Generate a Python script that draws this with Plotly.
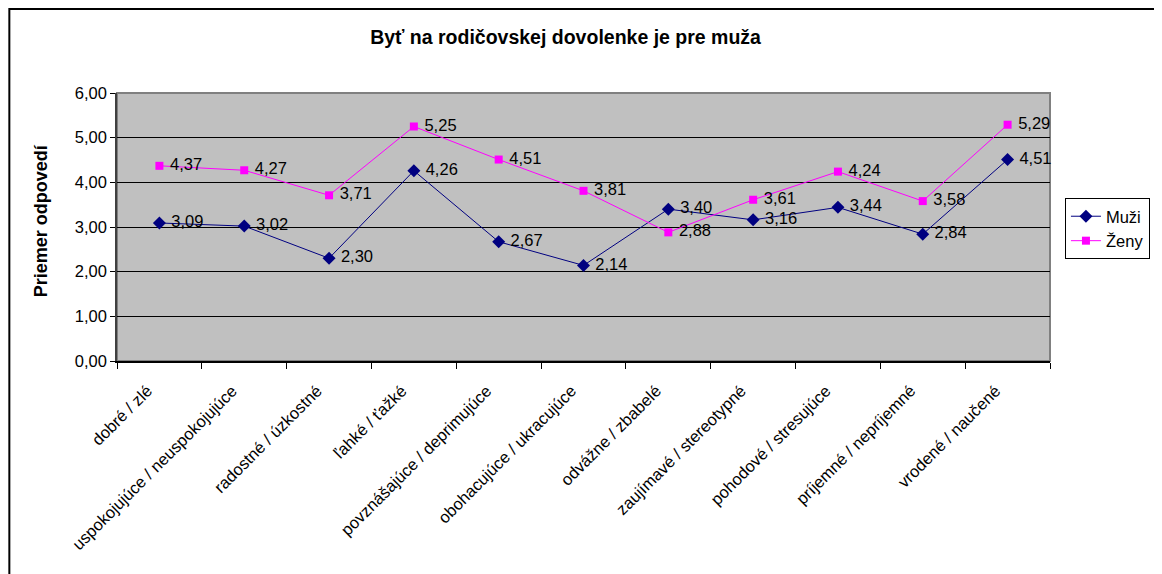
import plotly.graph_objects as go

categories = ["dobré / zlé", "uspokojujúce / neuspokojujúce", "radostné / úzkostné",
              "ľahké / ťažké", "povznášajúce / deprimujúce", "obohacujúce / ukracujúce",
              "odvážne / zbabelé", "zaujímavé / stereotypné", "pohodové / stresujúce",
              "príjemné / nepríjemné", "vrodené / naučené"]
muzi = [3.09, 3.02, 2.30, 4.26, 2.67, 2.14, 3.40, 3.16, 3.44, 2.84, 4.51]
zeny = [4.37, 4.27, 3.71, 5.25, 4.51, 3.81, 2.88, 3.61, 4.24, 3.58, 5.29]
y_ticks = [0, 1, 2, 3, 4, 5, 6]

FONT = "Liberation Sans, Arial, sans-serif"
OFF = 8  # default page body margin
W, H = 1162 - OFF, 574 - OFF
# plot area in page pixels
L, R, T, B = 117, 1053, 93, 361

def px_x(p):
    return (p - L) / (R - L)

def px_y(p):
    return (B - p) / (B - T)

fig = go.Figure()
fig.add_trace(go.Scatter(
    x=categories, y=muzi, name="Muži", mode="lines+markers+text",
    line=dict(color="#000080", width=1),
    marker=dict(symbol="diamond", size=10, color="#000080"),
    texttemplate=" %{y:.2f}", textposition="middle right", cliponaxis=False,
    textfont=dict(family=FONT, size=16.5, color="black"),
))
fig.add_trace(go.Scatter(
    x=categories, y=zeny, name="Ženy", mode="lines+markers+text",
    line=dict(color="#FF00FF", width=1),
    marker=dict(symbol="square", size=8, color="#FF00FF"),
    texttemplate=" %{y:.2f}", textposition="middle right", cliponaxis=False,
    textfont=dict(family=FONT, size=16.5, color="black"),
))

shapes = [
    # outer chart frame (right/bottom beyond visible area)
    dict(type="rect", xref="paper", yref="paper",
         x0=px_x(9), x1=px_x(1175), y0=px_y(590), y1=px_y(9),
         line=dict(color="black", width=2), fillcolor="rgba(0,0,0,0)", layer="below"),
    # plot area border
    dict(type="rect", xref="paper", yref="paper", x0=0, x1=1, y0=0, y1=1,
         line=dict(color="#808080", width=2), fillcolor="rgba(0,0,0,0)", layer="below"),
]

annotations = [
    dict(text="<b>Priemer odpovedí</b>", xref="paper", yref="paper",
         x=px_x(41), y=px_y(221), xanchor="center", yanchor="middle",
         textangle=-90, showarrow=False, font=dict(family=FONT, size=18, color="black")),
]

fig.update_layout(
    width=W, height=H,
    margin=dict(l=L - OFF, r=W - (R - OFF), t=T - OFF, b=H - (B - OFF)),
    paper_bgcolor="white", plot_bgcolor="#C0C0C0",
    separators=", ",
    font=dict(family=FONT, size=16.5, color="black"),
    title=dict(text="<b>Byť na rodičovskej dovolenke je pre muža</b>",
               x=px_x(567), xref="paper", xanchor="center",
               y=1 - (37 - OFF) / H, yanchor="middle", font=dict(size=19.5)),
    xaxis=dict(type="category", tickangle=-45, tickson="boundaries",
               ticks="outside", ticklen=6, tickcolor="black",
               ticklabelstandoff=12, ticklabelshift=-12,
               showline=True, linecolor="black", linewidth=1.5,
               showgrid=False, tickfont=dict(size=16.5), range=[-0.5, 10.5]),
    yaxis=dict(range=[0, 6], tickvals=y_ticks, tickformat=".2f",
               ticks="outside", ticklen=5, tickcolor="black",
               showline=True, linecolor="#404040", linewidth=1.5,
               showgrid=True, gridcolor="black", gridwidth=1, zeroline=False,
               tickfont=dict(size=16.5)),
    legend=dict(x=px_x(1068), y=px_y(198), xanchor="left", yanchor="top",
                bgcolor="white", bordercolor="black", borderwidth=1,
                font=dict(size=16.5), tracegroupgap=0, itemwidth=30),
    showlegend=True,
    shapes=shapes,
    annotations=annotations,
)

fig.write_html("out.html")
